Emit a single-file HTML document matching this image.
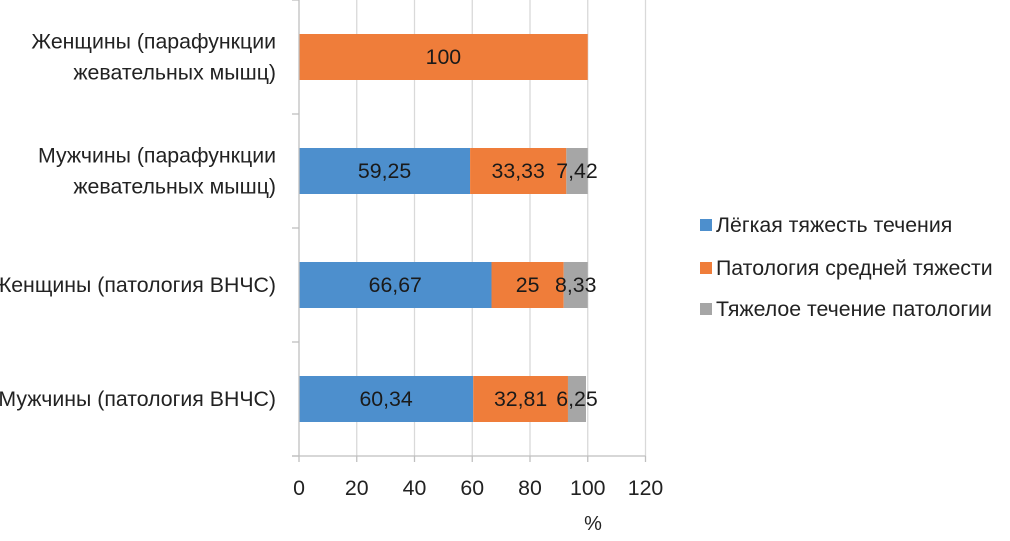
<!DOCTYPE html>
<html><head><meta charset="utf-8"><style>
html,body{margin:0;padding:0;background:#fff;}
svg{display:block;font-family:"Liberation Sans","DejaVu Sans",sans-serif;}
</style></head><body>
<svg id="chart" width="1010" height="541" viewBox="0 0 1010 541" xmlns="http://www.w3.org/2000/svg">
<g id="grid"></g>
<g id="bars"></g>
<g id="axes"></g>
<g id="cats"></g>
<text x="593" y="530" font-size="20" text-anchor="middle" fill="#222">%</text>
<g id="legend"></g>
</svg>
<script>
const categories = [["Женщины (парафункции","жевательных мышц)"],["Мужчины (парафункции","жевательных мышц)"],["Женщины (патология ВНЧС)"],["Мужчины (патология ВНЧС)"]];
const seriesNames = ["Лёгкая тяжесть течения","Патология средней тяжести","Тяжелое течение патологии"];
const light = [0, 59.25, 66.67, 60.34];
const medium = [100, 33.33, 25, 32.81];
const heavy = [0, 7.42, 8.33, 6.25];
const lightLabels = ["", "59,25", "66,67", "60,34"];
const mediumLabels = ["100", "33,33", "25", "32,81"];
const heavyLabels = ["", "7,42", "8,33", "6,25"];
const xTicks = [0,20,40,60,80,100,120];

const NS="http://www.w3.org/2000/svg";
const colors=["#4d8fcd","#ef7d3a","#a6a6a6"];
const FS=21.3;
const x0=299,x1=645.5,plotTop=0,plotBottom=456,xMax=120;
const X=v=>x0+(v/xMax)*(x1-x0);
const band=(plotBottom-plotTop)/categories.length;
const Y=i=>plotTop+band*i+band/2;
const barH=46;
function mk(tag,attrs,parent){const e=document.createElementNS(NS,tag);for(const k in attrs)e.setAttribute(k,attrs[k]);parent.appendChild(e);return e;}
const grid=document.getElementById('grid'),bars=document.getElementById('bars'),axes=document.getElementById('axes'),cats=document.getElementById('cats'),legend=document.getElementById('legend');
xTicks.forEach(t=>{
  if(t>0){const l=mk('line',{x1:X(t),x2:X(t),y1:plotTop,y2:plotBottom,stroke:'#d9d9d9','stroke-width':1.3},grid);
  
  }
  const tk=mk('line',{x1:X(t),x2:X(t),y1:plotBottom,y2:plotBottom+6,stroke:'#bfbfbf','stroke-width':1.3},axes);
  
  
  const tx=mk('text',{x:X(t),y:495,'font-size':FS,'text-anchor':'middle',fill:'#222'},axes);
  tx.textContent=t;
  
  
});
const ya=mk('line',{x1:x0,x2:x0,y1:plotTop,y2:plotBottom,stroke:'#bfbfbf','stroke-width':1.3},axes);


const xa=mk('line',{x1:x0-7,x2:x1,y1:plotBottom,y2:plotBottom,stroke:'#bfbfbf','stroke-width':1.3},axes);


for(let i=0;i<=categories.length;i++){
  const yy=plotTop+band*i;
  const t=mk('line',{x1:x0-7,x2:x0,y1:yy,y2:yy,stroke:'#bfbfbf','stroke-width':1.3},axes);
  
  
}
const series=[light,medium,heavy],labels=[lightLabels,mediumLabels,heavyLabels];
categories.forEach((c,i)=>{
  let acc=0;
  series.forEach((s,k)=>{
    const v=s[i];
    if(v>0){
      const r=mk('rect',{x:X(acc),y:Y(i)-barH/2,width:X(acc+v)-X(acc),height:barH,fill:colors[k]},bars);
      
      
      const tx=mk('text',{x:(X(acc)+X(acc+v))/2,y:Y(i)+7,'font-size':FS,'text-anchor':'middle',fill:'#1a1a1a'},bars);
      tx.textContent=labels[k][i];
      
      
    }
    acc+=v;
  });
  const lines=c;
  lines.forEach((ln,j)=>{
    const yy=Y(i)+7+(j-(lines.length-1)/2)*31;
    const tx=mk('text',{x:276,y:yy,'font-size':FS,'text-anchor':'end',fill:'#222'},cats);
    tx.textContent=ln;
    
    
  });
});
const legY=[225,268,309];
seriesNames.forEach((n,k)=>{
  const r=mk('rect',{x:700,y:legY[k]-6,width:12,height:12,fill:colors[k]},legend);
  
  
  const t=mk('text',{x:716,y:legY[k]+7,'font-size':FS,fill:'#222'},legend);
  t.textContent=n;
  
  
});
</script>
</body></html>
